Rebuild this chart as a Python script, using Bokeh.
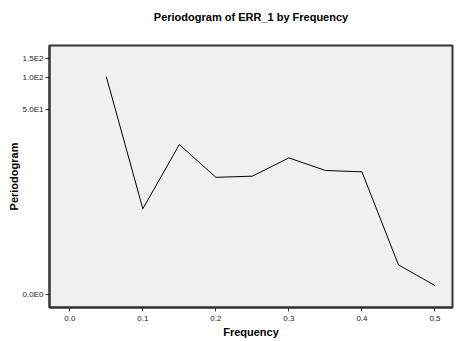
import numpy as np
from bokeh.plotting import figure
from bokeh.models import FixedTicker, CustomJSTickFormatter, NumeralTickFormatter, Range1d, Title
from bokeh.embed import file_html
from bokeh.resources import INLINE

frequency = [0.05, 0.10, 0.15, 0.20, 0.25, 0.30, 0.35, 0.40, 0.45, 0.50]
periodogram = [102.0, 5.2, 23.3, 11.1, 11.4, 17.3, 13.0, 12.6, 0.88, 0.21]
y_ticks = [0, 50, 100, 150]
x_ticks = [0.0, 0.1, 0.2, 0.3, 0.4, 0.5]
title_text = "Periodogram of ERR_1 by Frequency"

# SPSS periodogram axis: log10(value + 1) scale
ty = np.log10(np.array(periodogram) + 1.0)

FONT = "Liberation Sans"

p = figure(width=456, height=341, output_backend="svg", toolbar_location=None,
           frame_width=403, frame_height=262, title_location=None,
           min_border_left=49, min_border_right=4, min_border_top=45, min_border_bottom=34,
           x_range=Range1d(-0.0278, 0.524), y_range=Range1d(-0.120, 2.301))

# spacer (nearest the frame) then the real title
p.add_layout(Title(text=" ", text_font_size="1px", standoff=11), "above")
p.add_layout(Title(text=title_text, align="center", text_font=FONT, text_font_size="11px",
                   text_font_style="bold", text_color="#000000", standoff=17), "above")

p.background_fill_color = "#f0f0f0"
p.border_fill_color = "white"
p.outline_line_color = "#333333"
p.outline_line_width = 2
p.grid.visible = False

p.line(frequency, ty, line_color="black", line_width=1)

p.xaxis.ticker = FixedTicker(ticks=x_ticks)
p.xaxis.formatter = NumeralTickFormatter(format="0.0")
p.yaxis.ticker = FixedTicker(ticks=[float(np.log10(v + 1.0)) for v in y_ticks])
p.yaxis.formatter = CustomJSTickFormatter(code="""
var v = Math.round(Math.pow(10, tick) - 1);
if (v <= 0) { return "0.0E0"; }
var e = Math.floor(Math.log10(v));
var m = v / Math.pow(10, e);
return m.toFixed(1) + "E" + e;
""")

for ax in (p.xaxis[0], p.yaxis[0]):
    ax.axis_line_color = "#333333"
    ax.axis_line_width = 2
    ax.major_tick_line_color = "#333333"
    ax.major_tick_out = 4
    ax.major_tick_in = 0
    ax.minor_tick_line_color = None
    ax.major_label_text_font = FONT
    ax.major_label_text_font_size = "8px"
    ax.major_label_text_color = "#222222"
    ax.axis_label_text_font = FONT
    ax.axis_label_text_font_size = "11px"
    ax.axis_label_text_font_style = "bold"
    ax.axis_label_text_color = "#000000"

p.xaxis.axis_label = "Frequency"
p.yaxis.axis_label = "Periodogram"
p.xaxis.major_label_standoff = 4
p.yaxis.major_label_standoff = 2
p.xaxis.axis_label_standoff = 2
p.yaxis.axis_label_standoff = 0

open("out.html", "w").write(file_html(p, INLINE))
